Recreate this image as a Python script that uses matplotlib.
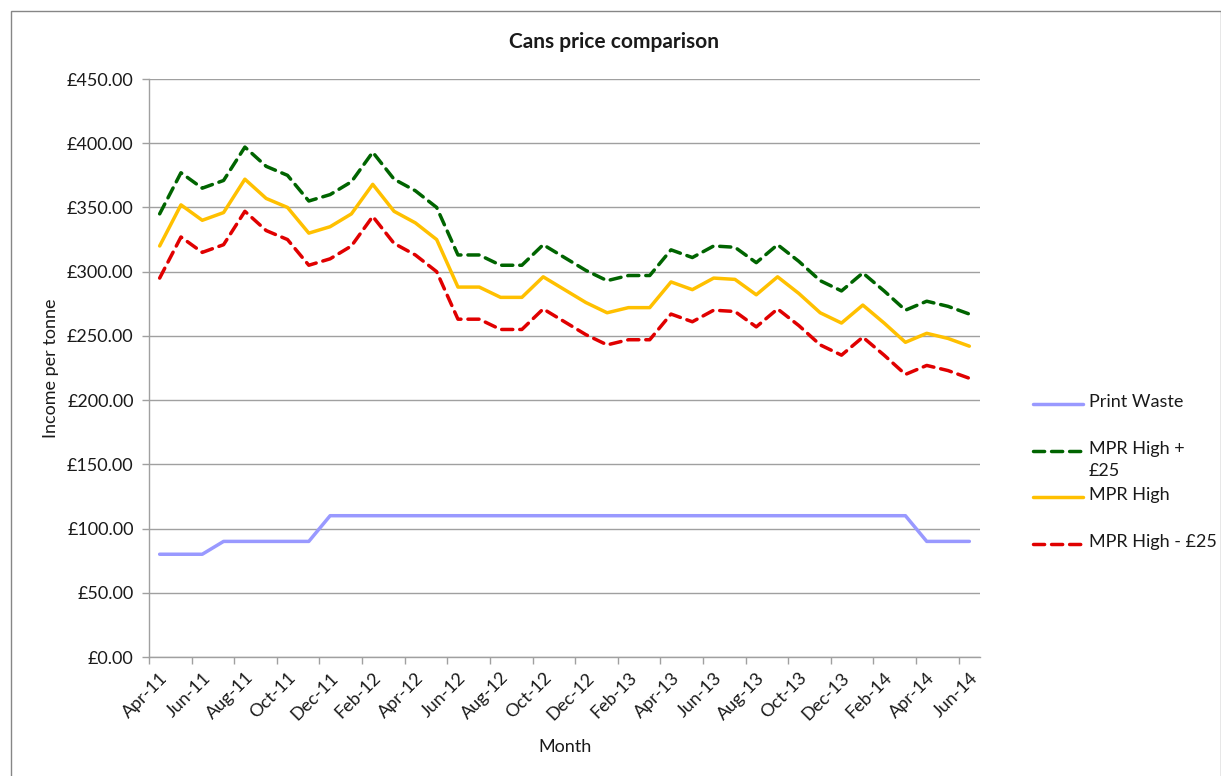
import matplotlib
matplotlib.use("Agg")
import matplotlib.pyplot as plt
from matplotlib.lines import Line2D
from matplotlib.patches import Rectangle
from matplotlib.ticker import FuncFormatter, FixedLocator
import pandas as pd

plt.rcParams['font.family'] = ['Lato', 'DejaVu Sans']

# Monthly categories, Apr-11 to Jun-14
months = pd.date_range('2011-04-01', periods=39, freq='MS')
month_labels = [d.strftime('%b-%y') for d in months]

# Income per tonne (GBP)
print_waste = [80, 80, 80, 90, 90, 90, 90, 90, 110, 110, 110, 110, 110,
               110, 110, 110, 110, 110, 110, 110, 110, 110, 110, 110, 110,
               110, 110, 110, 110, 110, 110, 110, 110, 110, 110, 110, 90,
               90, 90]
mpr_high = [320, 352, 340, 346, 372, 357, 350, 330, 335, 345, 368, 347, 338,
            325, 288, 288, 280, 280, 296, 286, 276, 268, 272, 272, 292, 286,
            295, 294, 282, 296, 283, 268, 260, 274, 260, 245, 252, 248, 242]
mpr_high_plus = [345, 377, 365, 371, 397, 382, 375, 355, 360, 370, 393, 372,
                 363, 350, 313, 313, 305, 305, 321, 311, 301, 293, 297, 297,
                 317, 311, 320, 319, 307, 321, 308, 293, 285, 299, 285, 270,
                 277, 273, 267]
mpr_high_minus = [295, 327, 315, 321, 347, 332, 325, 305, 310, 320, 343, 322,
                  313, 300, 263, 263, 255, 255, 271, 261, 251, 243, 247, 247,
                  267, 261, 270, 269, 257, 271, 258, 243, 235, 249, 235, 220,
                  227, 223, 217]

W, H = 1221, 776
fig = plt.figure(figsize=(W / 100, H / 100), dpi=100)
fig.patch.set_facecolor('white')

# Plot area in pixel coordinates
left, right, top, bottom = 149, 980, 79, 657
ax = fig.add_axes([left / W, 1 - bottom / H, (right - left) / W, (bottom - top) / H])

x = list(range(len(month_labels)))
lw = 2.5
dash = (0, (3.2, 2.0))
ax.plot(x, print_waste, color='#9999ff', lw=lw, solid_capstyle='round',
        solid_joinstyle='round', zorder=3)
ax.plot(x, mpr_high_plus, color='#006400', lw=lw, linestyle=dash,
        dash_capstyle='round', zorder=3)
ax.plot(x, mpr_high, color='#ffc000', lw=lw, solid_capstyle='round',
        solid_joinstyle='round', zorder=3)
ax.plot(x, mpr_high_minus, color='#e00000', lw=lw, linestyle=dash,
        dash_capstyle='round', zorder=3)

ax.set_xlim(-0.5, len(x) - 0.5)
ax.set_ylim(0, 450)

text_color = '#1a1a1a'
fs = 13

# Y axis
ax.set_yticks(range(0, 451, 50))
ax.yaxis.set_major_formatter(FuncFormatter(lambda v, p: f'\u00a3{v:,.2f}'))
ax.yaxis.grid(True, color='#a0a0a0', lw=1.0)
ax.set_axisbelow(True)
ax.tick_params(axis='y', length=5, width=1, color='#a0a0a0', labelsize=fs,
               labelcolor=text_color, pad=6)

# X axis: labels on every second month, tick marks between categories
ax.xaxis.set_major_locator(FixedLocator(x[::2]))
ax.set_xticklabels(month_labels[::2], rotation=45, ha='right',
                   rotation_mode='anchor', fontsize=fs, color=text_color)
ax.xaxis.set_minor_locator(FixedLocator([i - 0.5 for i in range(0, len(x) + 1, 2)]))
ax.tick_params(axis='x', which='major', length=0, pad=9)
ax.tick_params(axis='x', which='minor', length=5, width=1, color='#a0a0a0')

for s in ['top', 'right']:
    ax.spines[s].set_visible(False)
for s in ['left', 'bottom']:
    ax.spines[s].set_color('#a0a0a0')
    ax.spines[s].set_linewidth(1.0)

ax.set_ylabel('Income per tonne', fontsize=fs, color=text_color, labelpad=6)
ax.set_xlabel('Month', fontsize=fs, color=text_color, labelpad=12)

fig.text(614 / W, 1 - 42 / H, 'Cans price comparison', ha='center',
         va='center', fontsize=15, fontweight='bold', color=text_color)

# Legend drawn at the right of the plot
entries = [
    ('Print Waste', '#9999ff', '-', 404),
    ('MPR High +\n\u00a325', '#006400', dash, 451),
    ('MPR High', '#ffc000', '-', 497),
    ('MPR High - \u00a325', '#e00000', dash, 544),
]
for label, color, ls, ypix in entries:
    yf = 1 - ypix / H
    line = Line2D([1033 / W, 1083 / W], [yf, yf], transform=fig.transFigure,
                  color=color, lw=lw, linestyle=ls, dash_capstyle='round',
                  solid_capstyle='round')
    fig.add_artist(line)
    fig.text(1089 / W, yf + 0.013, label, ha='left', va='top', fontsize=fs,
             color=text_color, linespacing=1.45)

# Outer chart border
fig.add_artist(Rectangle((11 / W, -0.01), (1220.5 - 11) / W, 1.01 - 10.5 / H,
                         transform=fig.transFigure, fill=False,
                         edgecolor='#868686', lw=1.0))

fig.savefig('out.png', dpi=100, facecolor='white')
